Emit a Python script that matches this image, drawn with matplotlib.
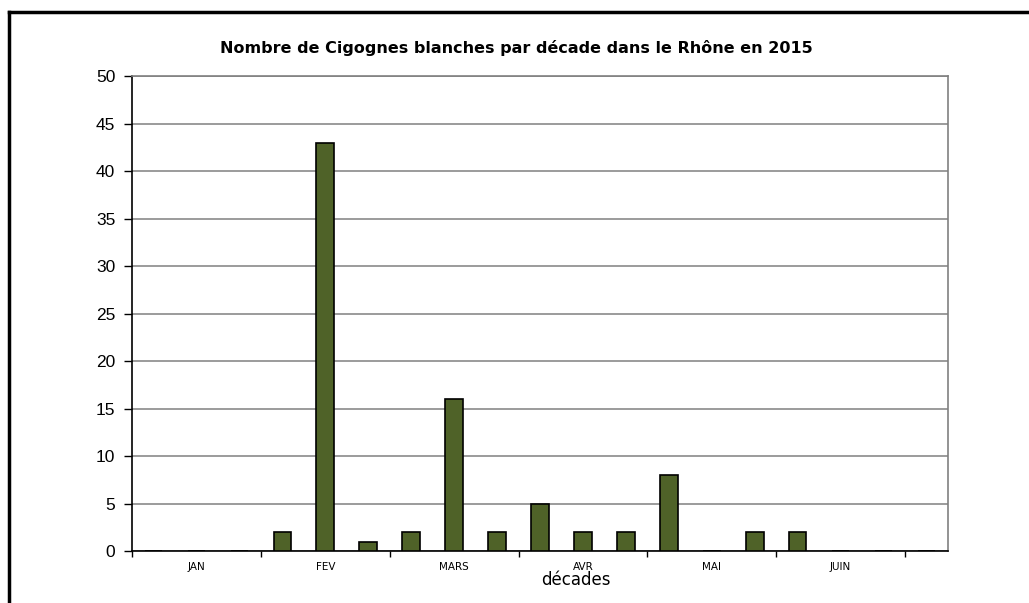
import matplotlib.pyplot as plt
import numpy as np
from matplotlib.lines import Line2D

# one value per decade (10 days), JAN to JUIN + one empty slot
counts = [0, 0, 0, 2, 43, 1, 2, 16, 2, 5, 2, 2, 8, 0, 2, 2, 0, 0, 0]
months = ['JAN', 'FEV', 'MARS', 'AVR', 'MAI', 'JUIN']

x = np.arange(len(counts))

fig = plt.figure(figsize=(10.29, 6.03), dpi=100)
ax = fig.add_axes([132/1029, 51.7/603, 816/1029, 475/603])

ax.bar(x, counts, width=0.41, color='#4f6228', edgecolor='black', linewidth=1.2, zorder=3)

ax.set_xlim(-0.5, len(counts) - 0.5)
ax.set_ylim(0, 50)
ax.set_yticks(np.arange(0, 51, 5))
ax.yaxis.grid(True, color='#808080', linewidth=1.1, zorder=0)

# month boundaries as major ticks, month names as minor labels
ax.set_xticks(np.arange(-0.5, len(counts), 3))
ax.set_xticklabels([])
ax.set_xticks(np.arange(1, 18, 3), minor=True)
ax.set_xticklabels(months, minor=True, fontsize=7.5, family='DejaVu Sans')
ax.tick_params(axis='x', which='major', length=4, width=1, direction='out')
ax.tick_params(axis='x', which='minor', length=0, pad=8)
ax.tick_params(axis='y', length=6, width=1, labelsize=12.5, pad=6)
for lab in ax.get_yticklabels():
    lab.set_family('Liberation Sans')

ax.spines['left'].set_color('black')
ax.spines['bottom'].set_color('black')
ax.spines['left'].set_linewidth(1.2)
ax.spines['bottom'].set_linewidth(1.2)
ax.spines['top'].set_color('#808080')
ax.spines['right'].set_color('#808080')
ax.spines['top'].set_linewidth(1.2)
ax.spines['right'].set_linewidth(1.2)

fig.text(0.502, 1 - 48/603, 'Nombre de Cigognes blanches par décade dans le Rhône en 2015',
         ha='center', va='center', fontsize=11.5, fontweight='bold')
fig.text(576/1029, 1 - 580/603, 'décades', ha='center', va='center', fontsize=12)

# outer frame (top and left edges only)
fig.add_artist(Line2D([9/1029, 1], [1 - 12/603, 1 - 12/603], color='black', linewidth=2.5,
                      transform=fig.transFigure))
fig.add_artist(Line2D([9/1029, 9/1029], [0, 1 - 12/603], color='black', linewidth=2.5,
                      transform=fig.transFigure))

fig.savefig('out.png', dpi=100)
